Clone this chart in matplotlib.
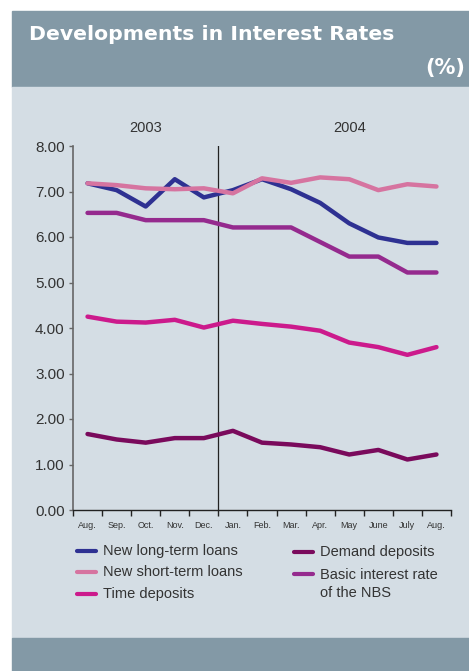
import matplotlib
matplotlib.use("Agg")
import matplotlib.pyplot as plt
from matplotlib.patches import Rectangle
from matplotlib.ticker import FixedLocator, NullFormatter, FormatStrFormatter

# monthly rates, Aug 2003 - Aug 2004 (%)
months = ["Aug.", "Sep.", "Oct.", "Nov.", "Dec.", "Jan.", "Feb.", "Mar.",
          "Apr.", "May", "June", "July", "Aug."]
long_term = [7.18, 7.03, 6.67, 7.27, 6.87, 7.03, 7.27, 7.05, 6.75, 6.30, 5.99, 5.87, 5.87]
short_term = [7.18, 7.14, 7.07, 7.05, 7.07, 6.96, 7.29, 7.19, 7.31, 7.27, 7.03, 7.16, 7.11]
time_dep = [4.25, 4.14, 4.12, 4.18, 4.01, 4.16, 4.09, 4.03, 3.94, 3.68, 3.58, 3.41, 3.58]
demand_dep = [1.67, 1.55, 1.48, 1.58, 1.58, 1.74, 1.48, 1.44, 1.38, 1.22, 1.32, 1.11, 1.22]
nbs_basic = [6.53, 6.53, 6.37, 6.37, 6.37, 6.21, 6.21, 6.21, 5.89, 5.57, 5.57, 5.22, 5.22]
years = ["2003", "2004"]

W, H = 469, 671
fig = plt.figure(figsize=(W / 100, H / 100), dpi=100)
fig.patch.set_facecolor("white")

band = "#8399a6"
panel = "#d4dde4"


def px_rect(x0, y0, x1, y1, color):
    # rectangle in pixel coords measured from the top-left
    fig.patches.append(Rectangle((x0 / W, 1 - y1 / H), (x1 - x0) / W, (y1 - y0) / H,
                                 transform=fig.transFigure, color=color, zorder=-10))


px_rect(12, 11, W, 87, band)
px_rect(12, 87, W, 638, panel)
px_rect(12, 638, W, H, band)

font = ["Liberation Sans", "DejaVu Sans"]
narrow = ["Liberation Sans Narrow", "Liberation Sans", "DejaVu Sans"]

fig.text(29 / W, 1 - 35 / H, "Developments in Interest Rates", color="white",
         fontsize=14.7, fontweight="bold", family=["DejaVu Sans"], va="center", ha="left")
fig.text(465 / W, 1 - 68 / H, "(%)", color="white", fontsize=15,
         fontweight="bold", family=["DejaVu Sans"], va="center", ha="right")

ax = fig.add_axes([73 / W, 161 / H, 378 / W, 364 / H])
ax.set_facecolor("none")

x = list(range(len(months)))
series = [
    (long_term, "#2e3192", "New long-term loans"),
    (short_term, "#d674a0", "New short-term loans"),
    (time_dep, "#cc1a8c", "Time deposits"),
    (demand_dep, "#7a0a5c", "Demand deposits"),
    (nbs_basic, "#952a8e", "Basic interest rate\nof the NBS"),
]
for vals, color, label in series:
    ax.plot(x, vals, color=color, lw=3.2, solid_capstyle="round",
            solid_joinstyle="round", label=label)

ax.axvline(4.5, color="#222222", lw=0.9, zorder=1)

ax.set_xlim(-0.5, len(months) - 0.5)
ax.set_ylim(0, 8)
ax.set_yticks(range(0, 9))
ax.yaxis.set_major_formatter(FormatStrFormatter("%.2f"))
ax.xaxis.set_major_locator(FixedLocator([i - 0.5 for i in range(len(months) + 1)]))
ax.xaxis.set_major_formatter(NullFormatter())
ax.xaxis.set_minor_locator(FixedLocator(x))
ax.set_xticklabels(months, minor=True)

for s in ("top", "right"):
    ax.spines[s].set_visible(False)
ax.spines["left"].set_color("#666666")
ax.spines["left"].set_linewidth(1.2)
ax.spines["bottom"].set_color("#222222")
ax.spines["bottom"].set_linewidth(1.0)

ax.tick_params(axis="y", length=3, width=1, color="#666666", pad=3,
               labelsize=11, labelcolor="#333333")
ax.tick_params(axis="x", which="major", length=4, width=1, color="#222222")
ax.tick_params(axis="x", which="minor", length=0, pad=8, labelsize=6.5,
               labelcolor="#333333")
for lab in ax.get_yticklabels():
    lab.set_family(font)
for lab in ax.get_xticklabels(minor=True):
    lab.set_family(narrow)

for i, yr in enumerate(years):
    xc = 2.0 if i == 0 else 9.0
    ax.text(xc, 8.25, yr, ha="center", va="bottom", fontsize=10.5,
            family=font, color="#333333")

# two-column legend below the axes
for idx, yy in [(0, 551), (1, 572), (2, 594)]:
    fig.lines.append(plt.Line2D([77 / W, 96 / W], [1 - yy / H] * 2, color=series[idx][1],
                                lw=3, solid_capstyle="round", transform=fig.transFigure))
    fig.text(103 / W, 1 - yy / H, series[idx][2], fontsize=10.5, family=font,
             color="#333333", va="center")
for idx, yy, ty in [(3, 552, 552), (4, 574, 584)]:
    fig.lines.append(plt.Line2D([294 / W, 313 / W], [1 - yy / H] * 2, color=series[idx][1],
                                lw=3, solid_capstyle="round", transform=fig.transFigure))
    fig.text(320 / W, 1 - ty / H, series[idx][2], fontsize=10.5, family=font,
             color="#333333", va="center", linespacing=1.3)

fig.savefig("out.png", dpi=100, facecolor=fig.get_facecolor())
